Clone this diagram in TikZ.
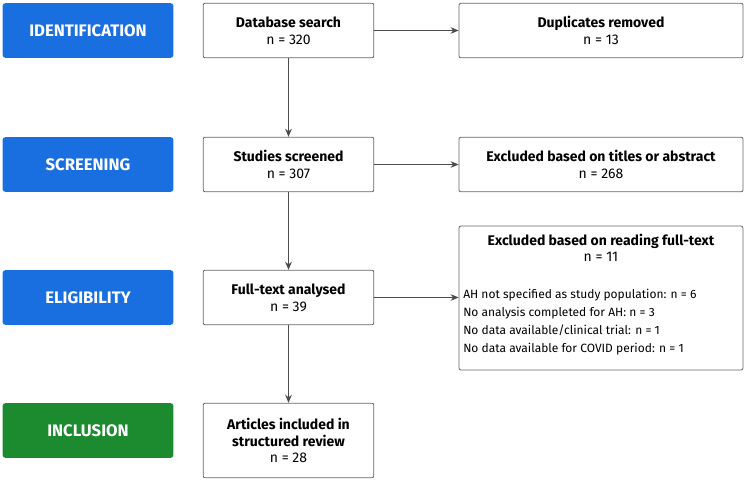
\documentclass[tikz,border=0pt]{standalone}
\usepackage{fontspec}
\setmainfont{Fira Sans}
\usetikzlibrary{arrows.meta}
\definecolor{lblue}{HTML}{1A6FE0}
\definecolor{lgreen}{HTML}{1C8A2E}
\begin{document}
\begin{tikzpicture}[x=0.75pt,y=-0.75pt,
  lab/.style={rectangle,rounded corners=2pt,minimum width=128pt,minimum height=41pt,text=white,font=\fontsize{12.5}{14}\selectfont\bfseries,inner sep=0pt},
  box/.style={draw=black!60,line width=0.6pt,rounded corners=1.5pt,minimum height=41pt,align=center,font=\fontsize{10.5}{12.5}\selectfont,inner sep=0pt},
  arr/.style={-{Stealth[length=6pt,width=5pt]},draw=black!70,line width=0.6pt}]
\useasboundingbox (0,0) rectangle (749,483);
\node[lab,fill=lblue] (l1) at (88,30.5) {IDENTIFICATION};
\node[lab,fill=lblue] (l2) at (88,164.5) {SCREENING};
\node[lab,fill=lblue] (l3) at (88,297.5) {ELIGIBILITY};
\node[lab,fill=lgreen] (l4) at (88,430.5) {INCLUSION};
\node[box,minimum width=128pt] (m1) at (288.5,30.5) {\textbf{Database search}\\n = 320};
\node[box,minimum width=128pt] (m2) at (288.5,164.5) {\textbf{Studies screened}\\n = 307};
\node[box,minimum width=128pt] (m3) at (288.5,297.5) {\textbf{Full-text analysed}\\n = 39};
\node[box,minimum width=128pt,minimum height=56pt] (m4) at (288.5,440.5) {\textbf{Articles included in}\\\textbf{structured review}\\n = 28};
\node[box,minimum width=213pt] (r1) at (601,30.5) {\textbf{Duplicates removed}\\n = 13};
\node[box,minimum width=213pt] (r2) at (601,164.5) {\textbf{Excluded based on titles or abstract}\\n = 268};
\node[box,minimum width=213pt,minimum height=108pt] (r3) at (601,298) {};
\node[align=center,font=\fontsize{10.5}{12.5}\selectfont,anchor=north] (r3t) at (601,229) {\textbf{Excluded based on reading full-text}\\n = 11};
\node[align=left,font=\fontsize{9}{13.5}\selectfont,anchor=north west,inner sep=0pt] (r3b) at (463,289) {AH not specified as study population: n = 6\\No analysis completed for AH: n = 3\\No data available/clinical trial: n = 1\\No data available for COVID period: n = 1};
\draw[arr] (m1) -- (m2);
\draw[arr] (m2) -- (m3);
\draw[arr] (m3) -- (m4);
\draw[arr] (m1) -- (r1);
\draw[arr] (m2) -- (r2);
\draw[arr] (m3.east) -- (r3.west|-m3.east);
\end{tikzpicture}
\end{document}
